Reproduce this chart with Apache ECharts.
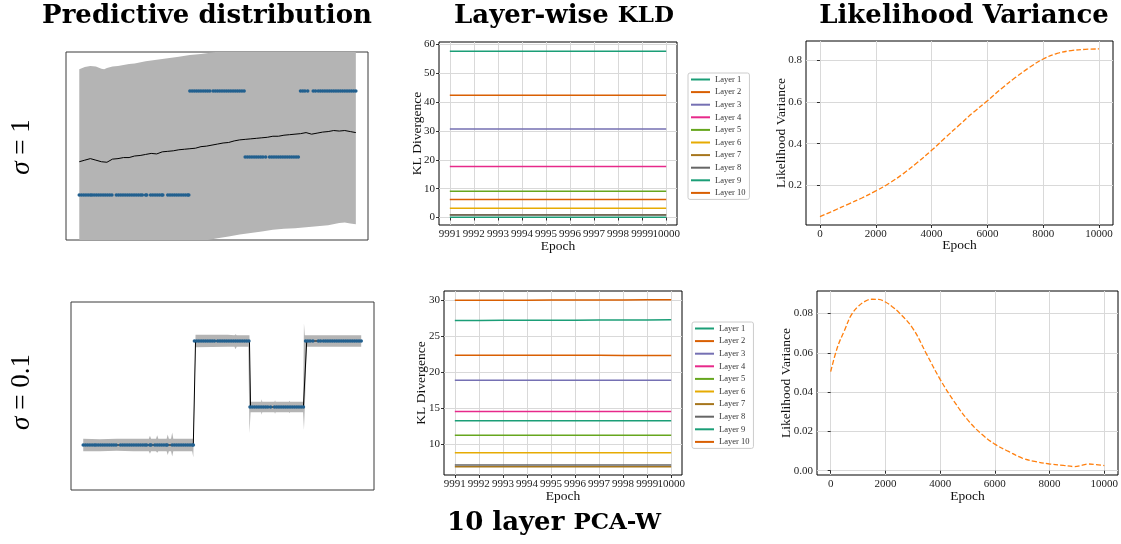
<!DOCTYPE html>
<html>
<head>
<meta charset="utf-8">
<script src="https://cdn.jsdelivr.net/npm/echarts@6/dist/echarts.min.js"></script>
<style>
html,body{margin:0;padding:0;background:#fff;}
#main{width:1121px;height:544px;}
</style>
</head>
<body>
<div id="main"></div>
<script>
// ---------- Predictive distribution: training data (step function) ----------
const stepLevels = [-1, 1, -0.27, 1];
const trainX1 = [0.00,0.04,0.08,0.12,0.16,0.20,0.23,0.27,0.31,0.35,0.39,0.43,0.47,0.51,0.55,0.59,
  0.67,0.71,0.75,0.79,0.83,0.87,0.91,0.95,0.99,1.03,1.07,1.11,1.14,1.20,1.22,
  1.29,1.33,1.37,1.41,1.45,1.49,1.51,1.60,1.64,1.68,1.72,1.76,1.80,1.84,1.88,1.92,1.96,1.98];
const trainX2 = [2.00,2.04,2.08,2.12,2.16,2.20,2.24,2.28,2.32,2.36,2.42,2.46,2.50,2.54,2.58,2.62,
  2.66,2.70,2.74,2.78,2.82,2.86,2.90,2.94,2.98];
const trainX3 = [3.00,3.04,3.08,3.12,3.16,3.20,3.24,3.28,3.32,3.37,3.44,3.48,3.52,3.56,3.60,3.64,
  3.68,3.72,3.76,3.80,3.84,3.88,3.92,3.96];
const trainX4 = [4.00,4.04,4.08,4.13,4.23,4.27,4.32,4.36,4.40,4.44,4.48,4.52,4.56,4.60,4.64,4.68,
  4.72,4.76,4.80,4.84,4.88,4.92,4.96,5.00];

// sigma = 1: predictive mean and band edges
const meanX1 = [0.0,0.1,0.2,0.3,0.4,0.5,0.6,0.7,0.8,0.9,1.0,1.1,1.2,1.3,1.4,1.5,1.6,1.7,1.8,1.9,
  2.0,2.1,2.2,2.3,2.4,2.5,2.6,2.7,2.8,2.9,3.0,3.1,3.2,3.3,3.4,3.5,3.6,3.7,3.8,3.9,
  4.0,4.1,4.2,4.3,4.4,4.5,4.6,4.7,4.8,4.9,5.0];
const meanY1 = [-0.36,-0.33,-0.30,-0.33,-0.36,-0.37,-0.31,-0.30,-0.28,-0.28,-0.25,-0.24,-0.22,-0.20,-0.21,
  -0.17,-0.16,-0.15,-0.13,-0.12,-0.11,-0.10,-0.07,-0.06,-0.04,-0.02,0.00,0.01,0.04,0.06,
  0.07,0.08,0.09,0.10,0.11,0.13,0.13,0.15,0.16,0.17,0.18,0.20,0.17,0.19,0.21,0.22,0.24,0.23,0.24,0.22,0.20];
const upperX1 = [0.0,0.1,0.2,0.3,0.4,0.45,0.5,0.6,0.7,0.8,0.9,1.0,1.2,1.4,1.6,1.8,2.0,2.2,2.4,2.6,2.8,3.0,3.5,4.0,4.5,5.0];
const upperY1 = [1.42,1.46,1.48,1.47,1.43,1.42,1.44,1.47,1.48,1.50,1.52,1.53,1.57,1.60,1.63,1.66,1.69,1.71,1.74,1.77,1.80,1.83,1.90,1.96,2.02,2.05];
const lowerX1 = [0.0,0.5,1.0,1.5,2.0,2.3,2.5,2.7,2.9,3.1,3.3,3.5,3.7,3.9,4.1,4.3,4.5,4.7,4.8,4.9,5.0];
const lowerY1 = [-2.22,-2.20,-2.12,-2.04,-1.96,-1.87,-1.83,-1.80,-1.76,-1.73,-1.70,-1.67,-1.65,-1.64,-1.62,-1.60,-1.58,-1.54,-1.53,-1.55,-1.56];

// sigma = 0.1: predictive mean and band edges
const meanX2 = [0, 1.98, 2.02, 2.99, 3.01, 3.96, 4.02, 5.0];
const meanY2 = [-1, -1, 1, 1, -0.27, -0.27, 1, 1];
const bandX2 = [0.00,0.30,0.60,0.90,1.18,1.20,1.22,1.31,1.33,1.35,1.50,1.52,1.54,1.58,1.60,1.62,1.96,1.98,
  2.02,2.60,2.72,2.74,2.76,2.97,2.99,3.01,3.20,3.21,3.22,3.44,3.45,3.46,3.70,3.71,3.72,3.955,3.97,3.985,4.02,5.00];
const bandLo2 = [-1.12,-1.12,-1.11,-1.12,-1.12,-1.17,-1.12,-1.12,-1.15,-1.12,-1.12,-1.19,-1.12,-1.12,-1.22,-1.12,-1.12,-1.24,
  0.88,0.89,0.89,0.84,0.89,0.89,-0.78,-0.37,-0.37,-0.42,-0.37,-0.37,-0.40,-0.37,-0.37,-0.39,-0.37,-0.37,-0.71,-0.30,0.89,0.89];
const bandHi2 = [-0.88,-0.89,-0.88,-0.88,-0.88,-0.82,-0.88,-0.88,-0.81,-0.88,-0.88,-0.80,-0.88,-0.88,-0.76,-0.88,-0.88,-0.88,
  1.12,1.12,1.11,1.13,1.11,1.11,1.11,-0.17,-0.17,-0.12,-0.17,-0.17,-0.14,-0.17,-0.17,-0.15,-0.17,-0.17,1.34,1.11,1.11,1.11];

// ---------- Layer-wise KLD ----------
const kldEpochs = [9991,9992,9993,9994,9995,9996,9997,9998,9999,10000];
const kldTickLabels = ['9991','9992','9993','9994','9995','9996','9997','9998','9999','10000'];
const layerNames = ['Layer 1','Layer 2','Layer 3','Layer 4','Layer 5','Layer 6','Layer 7','Layer 8','Layer 9','Layer 10'];
const kldSigma1 = [
  [57.7,57.7,57.7,57.7,57.7,57.7,57.7,57.7,57.7,57.7],
  [42.4,42.4,42.4,42.4,42.4,42.4,42.4,42.4,42.4,42.4],
  [30.75,30.75,30.75,30.75,30.75,30.75,30.75,30.75,30.75,30.75],
  [17.7,17.7,17.7,17.7,17.7,17.7,17.7,17.7,17.7,17.7],
  [9.15,9.15,9.15,9.15,9.15,9.15,9.15,9.15,9.15,9.15],
  [3.25,3.25,3.25,3.25,3.25,3.25,3.25,3.25,3.25,3.25],
  [1.0,1.0,1.0,1.0,1.0,1.0,1.0,1.0,1.0,1.0],
  [0.9,0.9,0.9,0.9,0.9,0.9,0.9,0.9,0.9,0.9],
  [0.1,0.1,0.1,0.1,0.1,0.1,0.1,0.1,0.1,0.1],
  [6.25,6.25,6.25,6.25,6.25,6.25,6.25,6.25,6.25,6.25]
];
const kldSigma01 = [
  [27.20,27.20,27.21,27.21,27.22,27.23,27.24,27.25,27.26,27.28],
  [22.36,22.36,22.35,22.35,22.34,22.34,22.33,22.32,22.31,22.30],
  [18.85,18.85,18.85,18.85,18.85,18.85,18.85,18.85,18.85,18.85],
  [14.5,14.5,14.5,14.5,14.5,14.5,14.5,14.5,14.5,14.5],
  [11.2,11.2,11.2,11.2,11.2,11.2,11.2,11.2,11.2,11.2],
  [8.75,8.75,8.75,8.75,8.75,8.75,8.75,8.75,8.75,8.75],
  [6.8,6.8,6.8,6.8,6.8,6.8,6.8,6.8,6.8,6.8],
  [7.05,7.05,7.05,7.05,7.05,7.05,7.05,7.05,7.05,7.05],
  [13.2,13.2,13.2,13.2,13.2,13.2,13.2,13.2,13.2,13.2],
  [30.00,30.00,30.01,30.02,30.03,30.04,30.05,30.06,30.07,30.08]
];
const kldTicks1 = [0,10,20,30,40,50,60];
const kldTicks01 = [10,15,20,25,30];

// ---------- Likelihood variance ----------
const varEpochs1 = [0,500,1000,1500,2000,2500,3000,3500,4000,4500,5000,5500,6000,6500,7000,7500,8000,8500,9000,9500,10000];
const varSigma1 = [0.051,0.080,0.110,0.140,0.174,0.212,0.258,0.311,0.368,0.430,0.490,0.550,0.605,0.663,0.716,0.764,0.805,0.832,0.845,0.851,0.853];
const varEpochs01 = [0,250,500,750,1000,1250,1500,1750,2000,2250,2500,3000,3500,4000,4500,5000,5500,6000,6500,7000,7500,8000,8500,8900,9200,9400,9700,10000];
const varSigma01 = [0.0504,0.0630,0.0713,0.0792,0.0836,0.0862,0.0873,0.0872,0.0859,0.0835,0.0805,0.0725,0.0595,0.0465,0.0355,0.0260,0.0188,0.0135,0.0098,0.0064,0.0046,0.0034,0.0027,0.0021,0.0028,0.0034,0.0031,0.0026];
const epochTicks = [0,2000,4000,6000,8000,10000];
const epochTickLabels = ['0','2000','4000','6000','8000','10000'];
const varTicks1 = [0.2,0.4,0.6,0.8];
const varTickLabels1 = ['0.2','0.4','0.6','0.8'];
const varTicks01 = [0,0.02,0.04,0.06,0.08];
const varTickLabels01 = ['0.00','0.02','0.04','0.06','0.08'];

// ---------- helpers ----------
const SERIF = 'Liberation Serif';
const dark2 = ['#1b9e77','#d95f02','#7570b3','#e7298a','#66a61e','#e6ab02','#a6761d','#666666','#1b9e77','#d95f02'];
const zip = (xs, ys) => xs.map((x, i) => [x, ys[i]]);
const labelFor = (ticks, labels) => v => {
  let best = 0;
  ticks.forEach((t, i) => { if (Math.abs(t - v) < Math.abs(ticks[best] - v)) best = i; });
  return labels[best];
};
const labelStyle = { fontFamily: SERIF, fontSize: 11, color: '#222' };

function valueAxis(gridIndex, min, max, ticks, labelTicks, labels, name, nameGap) {
  return {
    type: 'value', gridIndex, min, max,
    name, nameLocation: 'middle', nameGap, nameMoveOverlap: false,
    nameTextStyle: { fontFamily: SERIF, fontSize: 13.5, color: '#111' },
    axisLine: { show: false },
    axisTick: { show: true, length: 3, inside: false, customValues: ticks, lineStyle: { color: '#000', width: 0.8 } },
    axisLabel: Object.assign({ show: true, customValues: labelTicks, formatter: labelFor(ticks, labels), margin: 4,
      hideOverlap: false, showMinLabel: true, showMaxLabel: true }, labelStyle),
    splitLine: { show: true, lineStyle: { color: '#d9d9d9', width: 1 } }
  };
}
// extra label-only axis (keeps the crowded last epoch label visible)
function labelOnlyAxis(gridIndex, min, max, ticks, labels) {
  return {
    type: 'value', gridIndex, min, max, position: 'bottom', offset: 0,
    axisLine: { show: false }, axisTick: { show: false }, splitLine: { show: false },
    axisLabel: Object.assign({ show: true, customValues: ticks, formatter: labelFor(ticks, labels), margin: 4,
      hideOverlap: false, showMinLabel: true, showMaxLabel: true }, labelStyle)
  };
}
function hiddenAxis(gridIndex, min, max) {
  return {
    type: 'value', gridIndex, min, max,
    axisLine: { show: false }, axisTick: { show: false }, axisLabel: { show: false }, splitLine: { show: false }
  };
}
function bandRenderer(upper, lower) {
  return function (params, api) {
    const pts = [];
    upper.forEach(p => pts.push(api.coord(p)));
    for (let i = lower.length - 1; i >= 0; i--) pts.push(api.coord(lower[i]));
    const cs = params.coordSys;
    return {
      type: 'polygon',
      shape: { points: pts },
      style: { fill: '#b4b4b4' },
      clipPath: { type: 'rect', shape: { x: cs.x, y: cs.y, width: cs.width, height: cs.height } }
    };
  };
}
function trainPoints() {
  const out = [];
  [trainX1, trainX2, trainX3, trainX4].forEach((xs, k) => xs.forEach(x => out.push([x, stepLevels[k]])));
  return out;
}

const gridBase = { show: true, borderWidth: 1, backgroundColor: 'transparent', containLabel: false, outerBoundsMode: 'none' };
const grids = [
  Object.assign({ left: 66, top: 52, width: 302, height: 188, borderColor: '#3a3a3a' }, gridBase),
  Object.assign({ left: 71, top: 302, width: 303, height: 188, borderColor: '#3a3a3a' }, gridBase),
  Object.assign({ left: 439, top: 42, width: 238, height: 183, borderColor: '#000' }, gridBase),
  Object.assign({ left: 444, top: 291, width: 238, height: 184, borderColor: '#000' }, gridBase),
  Object.assign({ left: 806, top: 41, width: 307, height: 184, borderColor: '#000' }, gridBase),
  Object.assign({ left: 817, top: 291, width: 301, height: 184, borderColor: '#000' }, gridBase)
];

const kldMainLabels = kldEpochs.slice(0, 9);
const kldLastLabel = kldEpochs.slice(9);
const xAxes = [
  hiddenAxis(0, -0.24, 5.22),
  hiddenAxis(1, -0.22, 5.23),
  valueAxis(2, 9990.55, 10000.45, kldEpochs, kldMainLabels, kldTickLabels, 'Epoch', 14),
  valueAxis(3, 9990.55, 10000.45, kldEpochs, kldMainLabels, kldTickLabels, 'Epoch', 14),
  valueAxis(4, -500, 10500, epochTicks, epochTicks, epochTickLabels, 'Epoch', 13),
  valueAxis(5, -500, 10500, epochTicks, epochTicks, epochTickLabels, 'Epoch', 14),
  labelOnlyAxis(2, 9990.55, 10000.45, kldLastLabel, ['10000']),
  labelOnlyAxis(3, 9990.55, 10000.45, kldLastLabel, ['10000'])
];
const yAxes = [
  hiddenAxis(0, -1.865, 1.75),
  hiddenAxis(1, -1.865, 1.75),
  valueAxis(2, -2.6, 60.9, kldTicks1, kldTicks1, kldTicks1.map(String), 'KL Divergence', 15),
  valueAxis(3, 5.65, 31.3, kldTicks01, kldTicks01, kldTicks01.map(String), 'KL Divergence', 16),
  valueAxis(4, 0.011, 0.891, varTicks1, varTicks1, varTickLabels1, 'Likelihood Variance', 17.5),
  valueAxis(5, -0.0022, 0.0915, varTicks01, varTicks01, varTickLabels01, 'Likelihood Variance', 23.5)
];

const series = [];
// predictive panels
[[0, zip(upperX1, upperY1), zip(lowerX1, lowerY1), zip(meanX1, meanY1)],
 [1, zip(bandX2, bandHi2), zip(bandX2, bandLo2), zip(meanX2, meanY2)]].forEach(([g, up, lo, mean]) => {
  series.push({ type: 'custom', xAxisIndex: g, yAxisIndex: g, data: [[0, 0]], z: 1, silent: true,
    renderItem: bandRenderer(up, lo) });
  series.push({ type: 'line', xAxisIndex: g, yAxisIndex: g, data: mean, z: 2, symbol: 'none', silent: true,
    lineStyle: { color: '#000', width: 1 } });
  series.push({ type: 'scatter', xAxisIndex: g, yAxisIndex: g, data: trainPoints(), z: 3, silent: true,
    symbol: 'circle', symbolSize: 3.6, itemStyle: { color: '#22608f', opacity: 1 } });
});
// KLD panels
[[2, kldSigma1], [3, kldSigma01]].forEach(([g, table]) => {
  table.forEach((vals, i) => {
    series.push({ type: 'line', name: layerNames[i], xAxisIndex: g, yAxisIndex: g,
      data: zip(kldEpochs, vals), symbol: 'none', silent: true,
      color: dark2[i], lineStyle: { color: dark2[i], width: 1.5 } });
  });
});
// likelihood variance panels
[[4, zip(varEpochs1, varSigma1)], [5, zip(varEpochs01, varSigma01)]].forEach(([g, d]) => {
  series.push({ type: 'line', xAxisIndex: g, yAxisIndex: g, data: d, symbol: 'none', smooth: 0.4, silent: true,
    lineStyle: { color: '#ff7f0e', width: 1.3, type: [5, 2.2] } });
});

const legendBase = {
  orient: 'vertical', icon: 'rect', itemWidth: 19, itemHeight: 2, itemGap: 3.6,
  padding: [2, 4, 2, 3], borderColor: '#cccccc', borderWidth: 1, borderRadius: 2, backgroundColor: '#fff',
  textStyle: { fontFamily: SERIF, fontSize: 8.5, color: '#333', lineHeight: 8.8 },
  selectedMode: false, data: layerNames
};

const titleFont = { fontFamily: 'DejaVu Serif', fontWeight: 'bold', fontSize: 26, fill: '#000' };
const smallCaps = { fontFamily: 'DejaVu Serif', fontWeight: 'bold', fontSize: 23, fill: '#000' };
const sigmaFont = { fontFamily: SERIF, fontSize: 27, fill: '#000' };
const sigmaItalic = { fontFamily: SERIF, fontStyle: 'italic', fontSize: 27, fill: '#000' };
const graphic = [
  { type: 'text', x: 207, y: 16, style: Object.assign({ text: 'Predictive distribution', align: 'center', verticalAlign: 'middle' }, titleFont) },
  { type: 'text', x: 564, y: 16, style: Object.assign({ text: 'Layer-wise {sc|KLD}', align: 'center', verticalAlign: 'middle', rich: { sc: smallCaps } }, titleFont) },
  { type: 'text', x: 964, y: 16, style: Object.assign({ text: 'Likelihood Variance', align: 'center', verticalAlign: 'middle' }, titleFont) },
  { type: 'text', x: 554, y: 523, style: Object.assign({ text: '10 layer {sc|PCA-W}', align: 'center', verticalAlign: 'middle', rich: { sc: smallCaps } }, titleFont) },
  { type: 'text', x: 22, y: 147, rotation: Math.PI / 2,
    style: Object.assign({ text: '{i|σ} = 1', align: 'center', verticalAlign: 'middle', rich: { i: sigmaItalic } }, sigmaFont) },
  { type: 'text', x: 22, y: 392, rotation: Math.PI / 2,
    style: Object.assign({ text: '{i|σ} = 0.1', align: 'center', verticalAlign: 'middle', rich: { i: sigmaItalic } }, sigmaFont) }
];

const chart = echarts.init(document.getElementById('main'), null, { renderer: 'canvas' });
chart.setOption({
  animation: false,
  backgroundColor: '#fff',
  grid: grids,
  xAxis: xAxes,
  yAxis: yAxes,
  legend: [
    Object.assign({ left: 688, top: 73 }, legendBase),
    Object.assign({ left: 692, top: 322 }, legendBase)
  ],
  series,
  graphic
});
</script>
</body>
</html>
